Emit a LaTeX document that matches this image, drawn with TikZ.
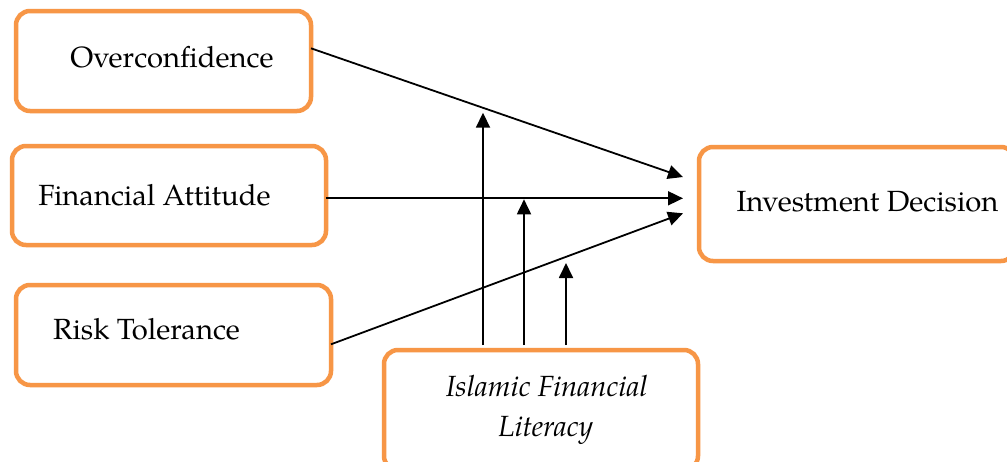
\documentclass[tikz,border=0pt]{standalone}
\usepackage{fontspec}
\setmainfont{TeX Gyre Pagella}
\usetikzlibrary{arrows.meta}
\definecolor{boxorange}{HTML}{F79646}
\begin{document}
\begin{tikzpicture}[x=1pt,y=-1pt,
  box/.style={draw=boxorange, line width=4.5pt, rounded corners=14pt, rectangle, inner sep=0pt},
  lbl/.style={anchor=base, inner sep=0pt, font=\fontsize{29.2}{36}\selectfont},
  arr/.style={line width=1.8pt, -{Triangle[length=15pt,width=14pt]}}]
\clip (0,0) rectangle (1007,461);
\fill[white] (0,0) rectangle (1007,461);
% boxes
\node[box, minimum width=295pt, minimum height=100pt] (oc) at (163.5,61) {};
\node[box, minimum width=314pt, minimum height=99pt] (fa) at (169,195.5) {};
\node[box, minimum width=315pt, minimum height=100pt] (rt) at (173.5,335) {};
\node[box, minimum width=316pt, minimum height=114pt] (id) at (857,204) {};
\node[box, minimum width=314pt, minimum height=120pt] (ifl) at (541,410) {};
% labels
\node[lbl] (ocT) at (172,67) {Overconfidence};
\node[lbl] (faT) at (154.5,205) {Financial Attitude};
\node[lbl] (rtT) at (146.5,339.5) {Risk Tolerance};
\node[lbl] (idT) at (867.5,211.7) {Investment Decision};
\node[lbl] (iflT1) at (546.7,396) {\itshape Islamic Financial};
\node[lbl] (iflT2) at (545.8,436) {\itshape Literacy};
% connector ends
\coordinate (ocS) at (311,48.3);
\coordinate (faS) at (326,198.3);
\coordinate (rtS) at (331,344.3);
\coordinate (tip1) at (683,177);
\coordinate (tip2) at (683,198.3);
\coordinate (tip3) at (683,213.3);
\coordinate (m1S) at (483,345);
\coordinate (m2S) at (524,345);
\coordinate (m3S) at (566,345);
\coordinate (m1E) at (483,112.7);
\coordinate (m2E) at (524,199.3);
\coordinate (m3E) at (566,263);
% connectors
\draw[arr] (ocS) -- (tip1);
\draw[arr] (faS) -- (tip2);
\draw[arr] (rtS) -- (tip3);
\draw[arr] (m1S) -- (m1E);
\draw[arr] (m2S) -- (m2E);
\draw[arr] (m3S) -- (m3E);
\end{tikzpicture}
\end{document}
